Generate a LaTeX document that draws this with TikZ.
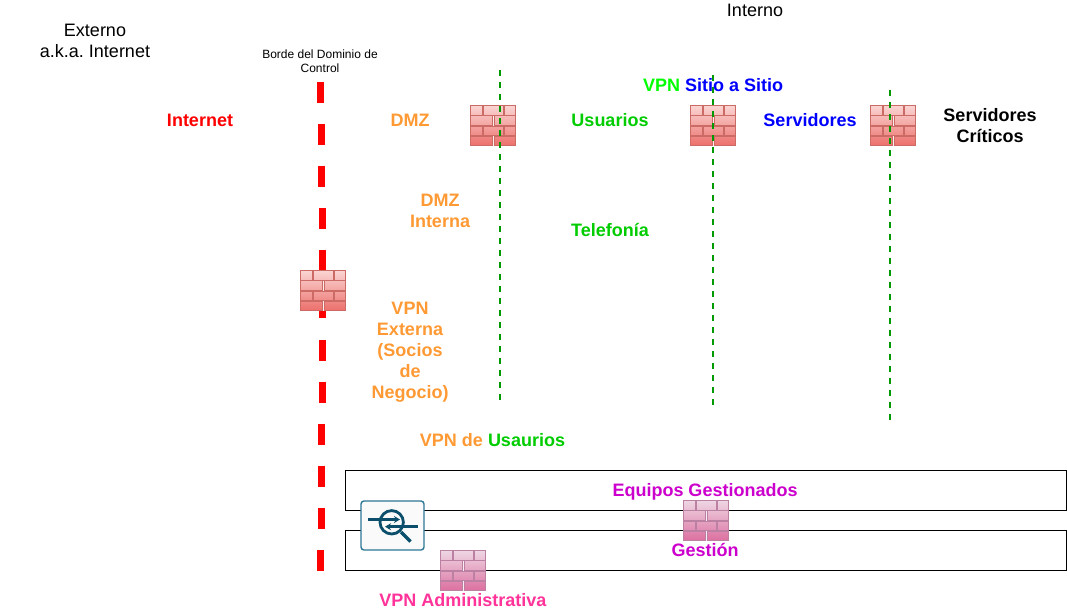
\documentclass[tikz,border=0pt]{standalone}
\usepackage{fontspec}
\setmainfont{Liberation Sans}
\usepackage{xcolor}
\usetikzlibrary{arrows.meta}
\definecolor{BorderRed}{HTML}{FF0000}
\definecolor{ZoneOrange}{HTML}{FF9933}
\definecolor{ZoneGreen}{HTML}{00CC00}
\definecolor{LineGreen}{HTML}{009900}
\definecolor{ZoneLime}{HTML}{00FF00}
\definecolor{ZoneBlue}{HTML}{0000FF}
\definecolor{ZoneMagenta}{HTML}{CC00CC}
\definecolor{ZonePink}{HTML}{FF3399}
\definecolor{IconBlue}{HTML}{0B4F6C}
\definecolor{IconEdge}{HTML}{2E7795}
\definecolor{WallRedTop}{HTML}{FAD4D2}
\definecolor{WallRedLow}{HTML}{EC6F6B}
\definecolor{WallRedEdge}{HTML}{CC6A66}
\definecolor{WallPinkTop}{HTML}{EED6E3}
\definecolor{WallPinkLow}{HTML}{DC6F9F}
\definecolor{WallPinkEdge}{HTML}{BC80A3}

\tikzset{
    pics/firewall/.style n args={3}{code={
        \fill[#1!40] (0,0) rectangle (46,41);
        \foreach \row/\mixtop/\mixlow in {0/0/22,1/25/47,2/50/72,3/78/100}{
            \pgfmathsetmacro{\rowtop}{\row*10.3+0.5}
            \ifodd\row
                \foreach \from/\to in {0/22.5,23.5/45}{
                    \draw[draw=#3, line width=0.9pt, top color={#2!\mixtop!#1}, bottom color={#2!\mixlow!#1}]
                        (\from+0.5,\rowtop) rectangle (\to,\rowtop+9.5);
                }
            \else
                \foreach \from/\to in {0/12,13/33,34/45}{
                    \draw[draw=#3, line width=0.9pt, top color={#2!\mixtop!#1}, bottom color={#2!\mixlow!#1}]
                        (\from+0.5,\rowtop) rectangle (\to,\rowtop+9.5);
                }
            \fi
        }
    }}
}

\begin{document}
\frenchspacing
\begin{tikzpicture}[
    x=1pt,
    y=-1pt,
    every node/.style={
        align=center,
        inner sep=0pt,
        font=\fontsize{18}{21}\selectfont
    },
    zonelabel/.style={
        font=\fontsize{18}{21}\selectfont\bfseries
    },
    zonebox/.style={
        draw=black,
        line width=1pt
    },
    borderline/.style={
        draw=BorderRed,
        line width=7pt
    },
    fenceline/.style={
        draw=LineGreen,
        line width=2pt,
        dash pattern=on 6pt off 6pt
    },
    iconline/.style={
        draw=IconBlue,
        line width=2.8pt
    }
]

\useasboundingbox (0,0) rectangle (1067,611);

% boxes
\draw[zonebox] (345.5,470.5) rectangle (1066,510.5);
\draw[zonebox] (345.5,530.5) rectangle (1066,570.5);

% control domain border
\foreach \dashx/\dashy in {320.7/81.5,321.3/123.5,321.7/165.5,322.3/207.5,322.7/249.5,322.7/297,
                           322.7/339.5,322/381.5,321.7/423.5,321.3/465.5,321/507.5,320.7/549.5}{
    \draw[borderline] (\dashx,\dashy) -- ++(0,21);
}

% walls
\pic at (470,105) {firewall={WallRedTop}{WallRedLow}{WallRedEdge}};
\pic at (690,105) {firewall={WallRedTop}{WallRedLow}{WallRedEdge}};
\pic at (870,105) {firewall={WallRedTop}{WallRedLow}{WallRedEdge}};
\pic at (300,270) {firewall={WallRedTop}{WallRedLow}{WallRedEdge}};
\pic at (683,500) {firewall={WallPinkTop}{WallPinkLow}{WallPinkEdge}};
\pic at (440,550) {firewall={WallPinkTop}{WallPinkLow}{WallPinkEdge}};

% fences
\draw[fenceline] (500,70) -- (500,401);
\draw[fenceline] (712.5,75) -- (712.5,405);
\draw[fenceline] (890,90) -- (890,420);

% vpn icon
\draw[draw=IconEdge, fill=white!98!black, line width=1.4pt, rounded corners=3pt]
    (361,501) rectangle (424,550);
\draw[iconline] (391.7,522.3) circle (11.7);
\draw[iconline, -{Stealth[length=6pt,width=7pt]}] (368,519.5) -- (400,519.5);
\draw[iconline, -{Stealth[length=6pt,width=7pt]}] (417.5,526.7) -- (385,526.7);
\draw[iconline, line width=3.5pt] (401,532) -- (410.5,541.5);

% labels
\node (externo) at (95,41) {Externo\\a.k.a. Internet};
\node (interno) at (755,10) {Interno};
\node[font=\fontsize{12}{14}\selectfont] (borde) at (320,61) {Borde del Dominio de\\Control};

\node[zonelabel, text=BorderRed] (internet) at (200,120) {Internet};
\node[zonelabel, text=ZoneOrange] (dmz) at (410,120) {DMZ};
\node[zonelabel, text=ZoneGreen] (usuarios) at (610,120) {Usuarios};
\node[zonelabel, text=ZoneBlue] (servidores) at (810,120) {Servidores};
\node[zonelabel, text=black] (criticos) at (990,126) {Servidores\\Críticos};
\node[zonelabel] (sitio) at (713,85) {\textcolor{ZoneLime}{VPN} \textcolor{ZoneBlue}{Sitio a Sitio}};
\node[zonelabel, text=ZoneOrange] (dmzint) at (440,211) {DMZ\\Interna};
\node[zonelabel, text=ZoneGreen] (telefonia) at (610,230) {Telefonía};
\node[zonelabel, text=ZoneOrange] (vpnext) at (410,352) {VPN\\Externa\\(Socios\\de\\Negocio)};
\node[zonelabel] (vpnusr) at (492.5,440) {\textcolor{ZoneOrange}{VPN de} \textcolor{ZoneGreen}{Usaurios}};
\node[zonelabel, text=ZoneMagenta] (equipos) at (705,492) {Equipos Gestionados};
\node[zonelabel, text=ZoneMagenta] (gestion) at (705,550) {Gestión};
\node[zonelabel, text=ZonePink] (vpnadm) at (463,600) {VPN Administrativa};

\end{tikzpicture}
\end{document}
